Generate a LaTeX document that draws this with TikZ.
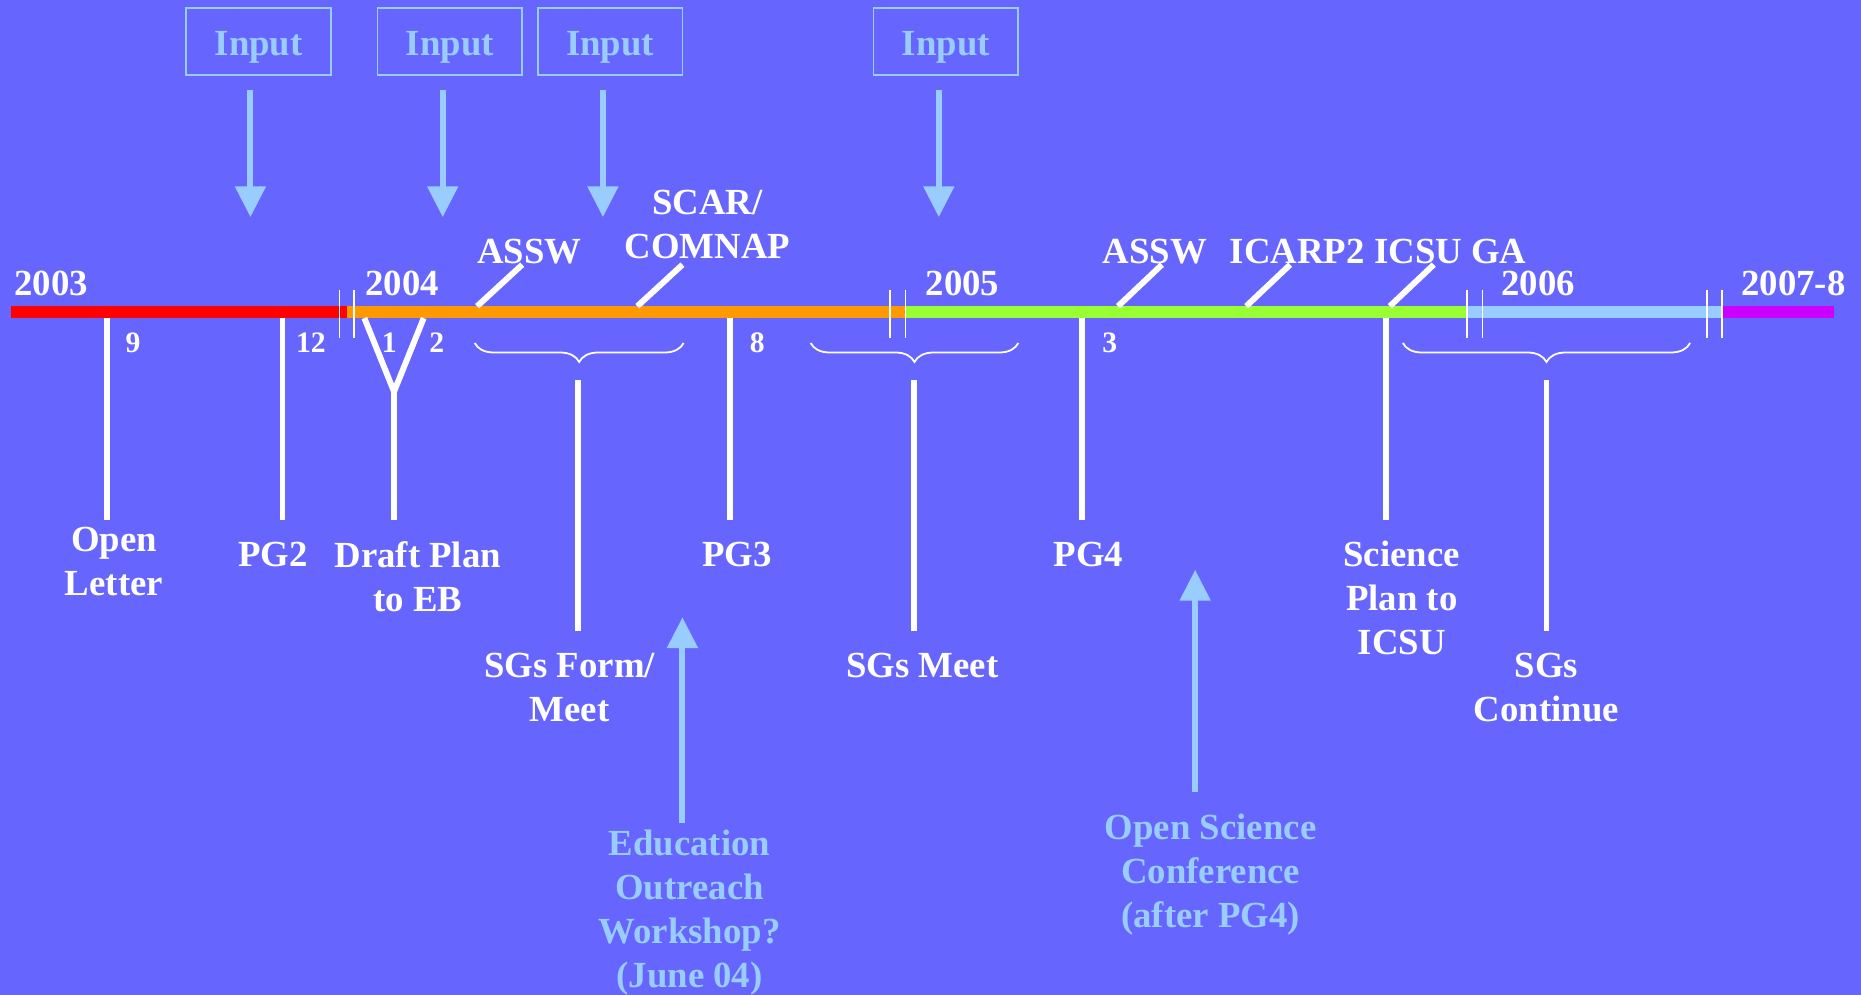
\documentclass[tikz,border=0pt]{standalone}
\usepackage{fontspec}
\setmainfont{Liberation Serif}
\usetikzlibrary{arrows.meta,decorations.pathreplacing,calc}
\definecolor{bgblue}{RGB}{102,102,255}
\definecolor{lb}{RGB}{153,204,255}
\definecolor{barred}{RGB}{255,0,0}
\definecolor{barorange}{RGB}{255,153,0}
\definecolor{bargreen}{RGB}{153,255,51}
\definecolor{barpurple}{RGB}{204,0,255}
\begin{document}
\begin{tikzpicture}[x=1pt,y=-1pt,
  lbl/.style={text=white, font=\fontsize{31}{37}\selectfont\bfseries, inner sep=0pt, align=center},
  bl/.style={lbl, anchor=base},
  nl/.style={lbl, anchor=north},
  num/.style={text=white, font=\fontsize{25}{30}\selectfont\bfseries, inner sep=0pt, anchor=base},
  inbox/.style={draw=lb, line width=1.5pt, text=lb, font=\fontsize{31}{37}\selectfont\bfseries,
    minimum width=122pt, minimum height=56pt, inner sep=0pt, text height=24pt, text depth=0pt},
  lbarrow/.style={draw=lb, line width=5pt, -{Triangle[width=25pt,length=26pt]}},
  tickline/.style={draw=white, line width=5pt},
  brk/.style={draw=white, line width=1.5pt},
  seg/.style={line width=10pt},
  brc/.style={draw=white, line width=1.5pt, decorate, decoration={brace, mirror, amplitude=16pt}},
]
\fill[bgblue] (0,0) rectangle (1568,838);
\useasboundingbox (0,0) rectangle (1568,838);

% timeline bar
\coordinate (b0) at (9,263);
\coordinate (b1) at (292,263);
\coordinate (b2) at (763,263);
\coordinate (b3) at (1236,263);
\coordinate (b4) at (1451,263);
\coordinate (b5) at (1545,263);
\draw[seg, barred] (b0) -- (b1);
\draw[seg, barorange] (b1) -- (b2);
\draw[seg, bargreen] (b2) -- (b3);
\draw[seg, lb] (b3) -- (b4);
\draw[seg, barpurple] (b4) -- (b5);

% break marks
\foreach \x in {286,298,750,763,1236,1249,1438,1451}
  \draw[brk] (\x,244) -- (\x,285);

% years
\node[bl] (y2003) at (43,249) {2003};
\node[bl] (y2004) at (339,249) {2004};
\node[bl] (y2005) at (811,249) {2005};
\node[bl] (y2006) at (1296,249) {2006};
\node[bl] (y2007) at (1511,249) {2007-8};

% month numbers
\node[num] (m9) at (112,297) {9};
\node[num] (m12) at (262,297) {12};
\node[num] (m1) at (328,297) {1};
\node[num] (m2) at (368,297) {2};
\node[num] (m8) at (638,297) {8};
\node[num] (m3) at (935,297) {3};

% events above bar
\node[bl] (assw1) at (446,222) {ASSW};
\node[nl] (scar) at (596,160) {SCAR/\\COMNAP};
\node[bl] (assw2) at (973,222) {ASSW};
\node[bl] (icarp) at (1093,222) {ICARP2};
\node[bl] (icsuga) at (1222,222) {ICSU GA};

\coordinate (d1a) at (402,258); \coordinate (d1b) at (440,223);
\coordinate (d2a) at (537,258); \coordinate (d2b) at (575,223);
\coordinate (d3a) at (942,258); \coordinate (d3b) at (979,223);
\coordinate (d4a) at (1050,258); \coordinate (d4b) at (1087,223);
\coordinate (d5a) at (1171,258); \coordinate (d5b) at (1208,223);
\draw[tickline] (d1a) -- (d1b);
\draw[tickline] (d2a) -- (d2b);
\draw[tickline] (d3a) -- (d3b);
\draw[tickline] (d4a) -- (d4b);
\draw[tickline] (d5a) -- (d5b);

% events below bar
\node[nl] (open) at (96,444) {Open\\Letter};
\node[bl] (pg2) at (230,477) {PG2};
\node[nl] (draft) at (352,456) {Draft Plan\\to EB};
\node[nl] (sgform) at (480,550) {SGs Form/\\Meet};
\node[bl] (pg3) at (621,477) {PG3};
\node[bl] (sgmeet) at (777,571) {SGs Meet};
\node[bl] (pg4) at (917,477) {PG4};
\node[nl] (sci) at (1181,456) {Science\\Plan to\\ICSU};
\node[nl] (sgcont) at (1303,550) {SGs\\Continue};

\coordinate (t9a) at (90,268); \coordinate (t9b) at (90,438);
\coordinate (t12a) at (238,268); \coordinate (t12b) at (238,438);
\coordinate (v1) at (307,268); \coordinate (v2) at (357,268);
\coordinate (vj) at (332,330); \coordinate (vb) at (332,438);
\coordinate (t8a) at (615,268); \coordinate (t8b) at (615,438);
\coordinate (t3a) at (912,268); \coordinate (t3b) at (912,438);
\coordinate (tia) at (1168,268); \coordinate (tib) at (1168,438);
\draw[tickline] (t9a) -- (t9b);
\draw[tickline] (t12a) -- (t12b);
\draw[tickline, line join=miter] (v1) -- (vj) -- (v2);
\draw[tickline] (vj) -- (vb);
\draw[tickline] (t8a) -- (t8b);
\draw[tickline] (t3a) -- (t3b);
\draw[tickline] (tia) -- (tib);

% braces
\coordinate (br1a) at (400,289); \coordinate (br1b) at (576,289);
\coordinate (br2a) at (683,289); \coordinate (br2b) at (858,289);
\coordinate (br3a) at (1182,289); \coordinate (br3b) at (1424,289);
\draw[brc] (br1a) -- (br1b);
\draw[brc] (br2a) -- (br2b);
\draw[brc] (br3a) -- (br3b);
\coordinate (s1a) at (487,320); \coordinate (s1b) at (487,532);
\coordinate (s2a) at (770,320); \coordinate (s2b) at (770,532);
\coordinate (s3a) at (1303,320); \coordinate (s3b) at (1303,532);
\draw[tickline] (s1a) -- (s1b);
\draw[tickline] (s2a) -- (s2b);
\draw[tickline] (s3a) -- (s3b);

% input boxes
\node[inbox] (in1) at (218,35) {Input};
\node[inbox] (in2) at (379,35) {Input};
\node[inbox] (in3) at (514,35) {Input};
\node[inbox] (in4) at (797,35) {Input};
\coordinate (in1t) at (211,183);
\coordinate (in2t) at (373,183);
\coordinate (in3t) at (508,183);
\coordinate (in4t) at (791,183);
\draw[lbarrow] ($(in1.south -| in1t)+(0,12)$) -- (in1t);
\draw[lbarrow] ($(in2.south -| in2t)+(0,12)$) -- (in2t);
\draw[lbarrow] ($(in3.south -| in3t)+(0,12)$) -- (in3t);
\draw[lbarrow] ($(in4.south -| in4t)+(0,12)$) -- (in4t);

% lower light-blue notes
\node[nl, text=lb] (edu) at (581,699) {Education\\Outreach\\Workshop?\\(June 04)};
\node[nl, text=lb] (osc) at (1020,686) {Open Science\\Conference\\(after PG4)};
\coordinate (edut) at (575,520);
\coordinate (osct) at (1007,480);
\draw[lbarrow] ($(edu.north -| edut)+(0,-6)$) -- (edut);
\draw[lbarrow] ($(osc.north -| osct)+(0,-19)$) -- (osct);
\end{tikzpicture}
\end{document}
